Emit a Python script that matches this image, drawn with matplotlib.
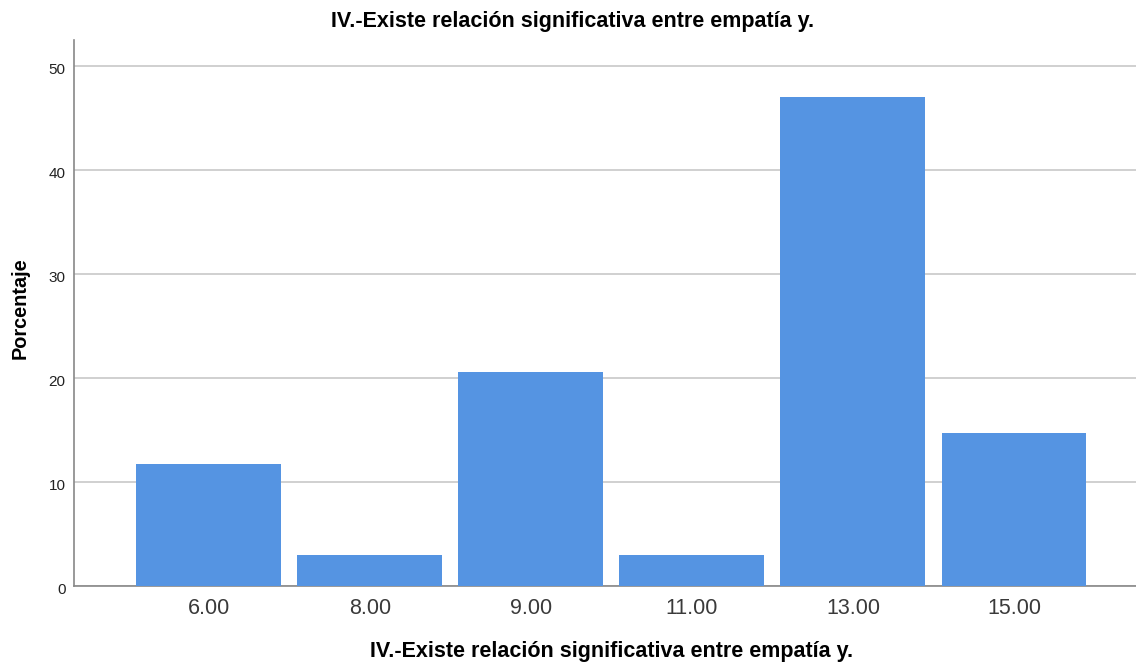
import matplotlib
matplotlib.use("Agg")
import matplotlib.pyplot as plt
from matplotlib.transforms import ScaledTranslation

categories = ["6.00", "8.00", "9.00", "11.00", "13.00", "15.00"]
percentages = [11.76, 2.94, 20.59, 2.94, 47.06, 14.71]
yticks = [0, 10, 20, 30, 40, 50]
title = "IV.-Existe relación significativa entre empatía y."

plt.rcParams['font.family'] = ['Liberation Sans', 'DejaVu Sans']

W, H = 1136, 666
fig = plt.figure(figsize=(W/100, H/100), dpi=100)
ax = fig.add_axes([74/W, 80/H, 1 - 74/W, (586-40)/H])

x = list(range(len(categories)))
ax.bar(x, percentages, width=0.9, color="#5594E2", zorder=3)

ax.set_xlim(-0.838, 5.758)
ax.set_ylim(0, 52.5)
ax.set_yticks(yticks)
ax.set_yticklabels([str(t) for t in yticks], fontsize=11, color="#222222")
ax.set_xticks(x)
ax.set_xticklabels(categories, fontsize=15.5, color="#3a3a3a")
ax.tick_params(axis='both', length=0)
ax.tick_params(axis='x', pad=9)
ax.tick_params(axis='y', pad=6)

offset = ScaledTranslation(0, -2.5/100, fig.dpi_scale_trans)
for lbl in ax.get_yticklabels():
    lbl.set_transform(lbl.get_transform() + offset)

ax.yaxis.grid(True, color="#c8c8c8", linewidth=1.2, zorder=0)
ax.set_axisbelow(True)
for s in ["top", "right"]:
    ax.spines[s].set_visible(False)
for s in ["left", "bottom"]:
    ax.spines[s].set_color("#888888")
    ax.spines[s].set_linewidth(1.2)

# axis labels placed in figure pixels
fig.text(20/W, 1 - 308/H, "Porcentaje", rotation=90, ha="center", va="center",
         fontsize=14.3, fontweight="bold")
fig.text(612/W, 1 - 652/H, title, ha="center", va="center", fontsize=15.5, fontweight="bold")
fig.text(573/W, 1 - 21/H, title, ha="center", va="center", fontsize=15.5, fontweight="bold")

fig.savefig("out.png", dpi=100)
